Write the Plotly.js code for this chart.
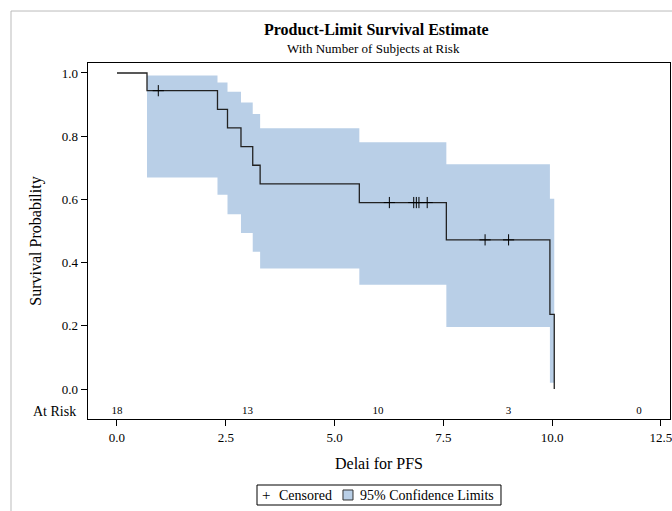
<!DOCTYPE html>
<html>
<head>
<meta charset="utf-8">
<script src="https://cdn.plot.ly/plotly-3.0.1.min.js"></script>
<style>html,body{margin:0;padding:0;background:#fff;}#chart{width:672px;height:511px;}</style>
</head>
<body>
<div id="chart"></div>
<script>
// Kaplan-Meier step curve
var survTime = [0, 0.69, 2.31, 2.54, 2.85, 3.12, 3.29, 5.57, 7.57, 9.95, 10.05];
var survProb = [1.0, 0.944, 0.885, 0.826, 0.767, 0.708, 0.649, 0.590, 0.472, 0.236, 0.0];

// 95% confidence band
var bandTime  = [0.69, 2.31, 2.54, 2.85, 3.12, 3.29, 5.57, 7.57, 9.95, 10.05];
var bandUpper = [0.992, 0.970, 0.941, 0.907, 0.870, 0.825, 0.781, 0.711, 0.602, 0.602];
var bandLower = [0.669, 0.615, 0.553, 0.494, 0.434, 0.381, 0.330, 0.196, 0.020, 0.020];

// Censored observations
var censTime = [0.95, 6.26, 6.82, 6.88, 6.94, 7.13, 8.46, 9.00];
var censProb = [0.944, 0.590, 0.590, 0.590, 0.590, 0.590, 0.472, 0.472];

// Number at risk
var riskTime = [0, 3, 6, 9, 12];
var riskCount = [18, 13, 10, 3, 0];
var riskRowY = -0.07;

var xTicks = [0, 2.5, 5, 7.5, 10, 12.5];
var xTickText = ['0.0', '2.5', '5.0', '7.5', '10.0', '12.5'];
var yTicks = [0, 0.2, 0.4, 0.6, 0.8, 1.0];
var yTickText = ['0.0', '0.2', '0.4', '0.6', '0.8', '1.0'];

// Legend labels
var legendLabels = ['Censored', '95% Confidence Limits'];

var FONT = '"Liberation Serif", "Times New Roman", serif';
var BAND = '#B9CFE7';

var traces = [
  {x: bandTime, y: bandUpper, mode: 'lines', line: {shape: 'hv', width: 0, color: BAND},
   showlegend: false, hoverinfo: 'skip'},
  {x: bandTime, y: bandLower, mode: 'lines', line: {shape: 'hv', width: 0, color: BAND},
   fill: 'tonexty', fillcolor: BAND, showlegend: false, hoverinfo: 'skip'},
  {x: survTime, y: survProb, mode: 'lines', line: {shape: 'hv', width: 1.3, color: '#222'},
   showlegend: false},
  {x: censTime, y: censProb, mode: 'markers', name: legendLabels[0], showlegend: false,
   marker: {symbol: 'cross-thin-open', size: 8, color: '#000', line: {width: 1, color: '#000'}}},
  {x: riskTime, y: riskTime.map(function(){return riskRowY;}), mode: 'text',
   text: riskCount.map(String), textfont: {family: FONT, size: 11, color: '#000'},
   showlegend: false, hoverinfo: 'skip', cliponaxis: false}
];

// legend geometry in paper fractions
var LY = -0.2135;
var layout = {
  width: 672, height: 511,
  margin: {l: 88, r: 2, t: 63, b: 92},
  paper_bgcolor: '#fff', plot_bgcolor: '#fff',
  font: {family: FONT, size: 13, color: '#000'},
  showlegend: false,
  title: {text: '<b>Product-Limit Survival Estimate</b>',
          font: {family: FONT, size: 16, color: '#000'}, x: 0.56, xanchor: 'center',
          y: 0.954, yanchor: 'top'},
  xaxis: {range: [-0.666, 12.71], tickvals: xTicks, ticktext: xTickText, ticks: 'outside', ticklen: 6,
          tickcolor: '#000', showgrid: false, zeroline: false, showline: true, mirror: true,
          linecolor: '#000', linewidth: 1.3, tickfont: {family: FONT, size: 13},
          ticklabeloverflow: 'allow',
          title: {text: 'Delai for PFS', font: {family: FONT, size: 16}, standoff: 14}},
  yaxis: {range: [-0.0949, 1.0316], tickvals: yTicks, ticktext: yTickText, ticks: 'outside', ticklen: 6,
          tickcolor: '#000', showgrid: false, zeroline: false, showline: true, mirror: true,
          linecolor: '#000', linewidth: 1.3, tickfont: {family: FONT, size: 13},
          title: {text: 'Survival Probability', font: {family: FONT, size: 16}, standoff: 16}},
  annotations: [
    {text: 'With Number of Subjects at Risk', xref: 'paper', yref: 'paper', x: 0.49, y: 1.042,
     xanchor: 'center', yanchor: 'middle', showarrow: false, font: {family: FONT, size: 13}},
    {text: 'At Risk', xref: 'paper', yref: 'y', x: 0, y: riskRowY, xanchor: 'right', yanchor: 'middle',
     xshift: -10, showarrow: false, font: {family: FONT, size: 14}},
    {text: '+', xref: 'paper', yref: 'paper', x: 0.3058, y: LY, xanchor: 'center', yanchor: 'middle',
     showarrow: false, font: {family: FONT, size: 15}},
    {text: legendLabels[0], xref: 'paper', yref: 'paper', x: 0.3247, y: LY, xanchor: 'left', yanchor: 'middle',
     showarrow: false, font: {family: FONT, size: 14}},
    {text: legendLabels[1], xref: 'paper', yref: 'paper', x: 0.4639, y: LY, xanchor: 'left', yanchor: 'middle',
     showarrow: false, font: {family: FONT, size: 14}}
  ],
  shapes: [
    {type: 'line', xref: 'paper', yref: 'paper', x0: -0.1323, x1: 1.01, y0: 1.146, y1: 1.146,
     line: {color: '#bbb', width: 1}},
    {type: 'line', xref: 'paper', yref: 'paper', x0: -0.1323, x1: -0.1323, y0: 1.146, y1: -0.26,
     line: {color: '#bbb', width: 1}},
    {type: 'rect', xref: 'paper', yref: 'paper', x0: 0.2904, x1: 0.7096, y0: -0.2416, y1: -0.1854,
     line: {color: '#000', width: 1}, fillcolor: '#fff'},
    {type: 'rect', xref: 'paper', yref: 'paper', x0: 0.4381, x1: 0.4553, y0: -0.2275, y1: -0.1994,
     line: {color: '#333', width: 1}, fillcolor: BAND}
  ]
};

Plotly.newPlot('chart', traces, layout, {displayModeBar: false, staticPlot: true});
</script>
</body>
</html>
